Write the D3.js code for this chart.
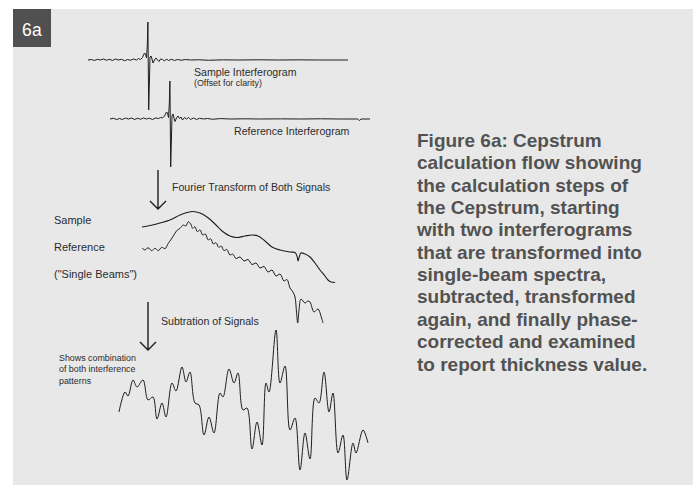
<!DOCTYPE html>
<html>
<head>
<meta charset="utf-8">
<script src="https://cdn.jsdelivr.net/npm/d3@7"></script>
<style>
  html, body { margin: 0; padding: 0; background: #ffffff; }
  svg { display: block; }
  text { font-family: "Liberation Sans", Arial, Helvetica, sans-serif; }
</style>
</head>
<body>
<svg id="fig" width="697" height="486"></svg>
<script>
// Interferograms: [optical path difference (points from centerburst), amplitude]
const sampleIfg = [
  [-60.5,0],[-57,0.01],[-54,-0.01],[-51,0.015],[-48,0],[-45,0.02],[-42,-0.005],[-39,0.015],
  [-36,-0.01],[-33,0.02],[-30,0],[-27,0.015],[-24,-0.015],[-21,0.01],[-18,-0.005],[-15,0.02],
  [-12,0],[-10,0.03],[-8,0.01],[-6,0.05],[-5,0.1],[-4,0.14],[-3,0.12],[-2,0.04],[-1.2,0.3],
  [-0.6,0.76],[0.2,-1.0],[0.9,-0.44],[1.5,0.06],[2.5,0.08],[3.5,0.02],[4.5,-0.06],[6,0],
  [7.5,0.04],[9,0],[10.5,-0.03],[12,0.02],[14,0.01],[16,-0.02],[18,0.02],[20,-0.01],[23,0.015],
  [26,-0.01],[29,0.01],[33,-0.005],[37,0.01],[42,0],[50,0.005],[60,-0.005],[75,0.003],[90,0],
  [110,0.004],[130,0],[150,0.003],[170,0],[199.5,0]
];
const referenceIfg = [
  [-60.5,0],[-57,0.015],[-54,-0.01],[-51,0.01],[-48,-0.01],[-45,0.02],[-42,0],[-39,0.02],
  [-36,-0.01],[-33,0.015],[-30,-0.005],[-27,0.02],[-24,0],[-21,0.015],[-18,-0.01],[-15,0.02],
  [-12,0.01],[-10,0.03],[-8,0.02],[-6,0.06],[-5,0.1],[-4,0.14],[-3,0.12],[-2,0.03],[-1.2,0.3],
  [-0.6,0.76],[0.2,-0.96],[0.9,-0.42],[1.5,0.06],[2.5,0.1],[3.5,0.02],[4.5,-0.05],[6,0.02],
  [7.5,0.06],[9,0.01],[10.5,0.04],[12,-0.02],[14,0.03],[16,0],[18,0.03],[20,-0.01],[23,0.02],
  [26,-0.01],[29,0.015],[33,0],[37,0.01],[42,-0.005],[50,0.008],[60,0],[75,0.004],[90,0],
  [110,0.003],[130,0],[150,0.004],[170,0],[187,0],[189,-0.03],[190.5,0],[199.5,0]
];

// Single-beam spectra: [channel, intensity]
const sampleSpectrum = [
  [0,1.03],[4,1.045],[9,1.07],[14,1.10],[19,1.15],[22.5,1.175],[25.5,1.185],[29,1.17],
  [32.5,1.13],[36.5,1.06],[40,0.99],[44,0.94],[47.5,0.925],[51.5,0.94],[55,0.95],[58,0.94],
  [61.5,0.89],[65,0.83],[69,0.80],[74,0.78],[76.5,0.775],[77.5,0.74],[78,0.69],[78.75,0.74],
  [79.5,0.77],[81.5,0.76],[84,0.73],[86.5,0.67],[89,0.60],[91.5,0.54],[93,0.50],[94.5,0.48],
  [96.5,0.475]
];
const referenceSpectrum = [
  [0,0.82],[1.5,0.80],[3,0.823],[4.85,0.793],[6.5,0.817],[8.15,0.793],[9.85,0.827],[11.5,0.813],
  [13.15,0.867],[14.35,0.90],[15.65,0.94],[17.35,0.993],[19,1.017],[20.65,1.05],[22,1.04],
  [23.15,1.083],[24.35,1.06],[25.35,1.017],[26.5,1.033],[27.65,0.983],[29,1.00],[30.35,0.95],
  [31.65,0.96],[33.15,0.90],[34.35,0.913],[35.65,0.86],[37,0.873],[38.35,0.827],[39.65,0.84],
  [41,0.793],[42.35,0.807],[44,0.75],[45.35,0.76],[47,0.715],[49,0.73],[51,0.69],[53,0.705],
  [55,0.655],[57,0.67],[59,0.62],[61,0.635],[63,0.58],[65,0.60],[67,0.54],[69,0.56],[71,0.49],
  [72.5,0.505],[74,0.42],[75.5,0.38],[76.5,0.33],[77.25,0.18],[77.85,0.07],[78.5,0.20],
  [79.5,0.31],[81.5,0.27],[83,0.29],[84,0.28],[86,0.18],[88,0.21],[89.5,0.14],[90.5,0.07]
];

// Difference of the two single beams: [channel, amplitude]
const subtracted = [
  [0,-0.093],[6,0.173],[9,0.12],[14,0.333],[18,0.24],[24,0.333],[29,0.067],[34,0.107],
  [38,-0.187],[43,0.027],[47,-0.16],[53,0.293],[57,0.187],[63,0.507],[67,0.307],[71,0.44],
  [76,0.027],[80,0],[85,-0.40],[90,-0.16],[95,-0.373],[101,0.16],[104,0.107],[110,0.48],
  [115,0.293],[119,0.427],[124,-0.067],[128,-0.04],[133,-0.587],[138,-0.227],[143,-0.533],
  [147,0.293],[150,0.173],[157,1.0],[161,0.293],[166,0.52],[171,-0.333],[176,-0.173],
  [181,-0.867],[186,-0.373],[191,-0.72],[196,0.093],[200,0.027],[205,0.44],[210,-0.093],
  [214,0.16],[219,-0.64],[224,-0.40],[228,-1.0],[234,-0.507],[237,-0.64],[244,-0.333],
  [249,-0.507]
];

const captionLines = [
  "Figure 6a: Cepstrum",
  "calculation flow showing",
  "the calculation steps of",
  "the Cepstrum, starting",
  "with two interferograms",
  "that are transformed into",
  "single-beam spectra,",
  "subtracted, transformed",
  "again, and finally phase-",
  "corrected and examined",
  "to report thickness value."
];

const svg = d3.select("#fig");
const ink = "#1e1e1e";

// panel background and figure tag
svg.append("rect").attr("x", 13).attr("y", 9).attr("width", 680).attr("height", 476).attr("fill", "#e8e8e8");
svg.append("rect").attr("x", 13).attr("y", 9).attr("width", 38).attr("height", 38).attr("fill", "#505050");
svg.append("text").attr("x", 22).attr("y", 35.5).attr("fill", "#ffffff")
  .attr("font-size", 17.5).attr("letter-spacing", 0.3).text("6a");

function trace(data, xs, ys, curve, width) {
  const line = d3.line().x(d => xs(d[0])).y(d => ys(d[1])).curve(curve);
  svg.append("path").attr("d", line(data)).attr("fill", "none")
    .attr("stroke", ink).attr("stroke-width", width).attr("stroke-linejoin", "round");
}

// interferograms (reference offset for clarity)
const ifgXs = d3.scaleLinear().domain([-60.5, 199.5]).range([88, 348]);
const ifgYs = d3.scaleLinear().domain([-1, 1]).range([110, 10]);
const ifgXr = d3.scaleLinear().domain([-60.5, 199.5]).range([110, 370]);
const ifgYr = d3.scaleLinear().domain([-1, 1]).range([169, 69]);
trace(sampleIfg, ifgXs, ifgYs, d3.curveLinear, 1);
trace(referenceIfg, ifgXr, ifgYr, d3.curveLinear, 1);

// single-beam spectra
const specX = d3.scaleLinear().domain([0, 100]).range([142, 342]);
const specY = d3.scaleLinear().domain([0, 1.2]).range([330, 210]);
trace(sampleSpectrum, specX, specY, d3.curveCatmullRom.alpha(0.5), 1.1);
trace(referenceSpectrum, specX, specY, d3.curveCatmullRom.alpha(0.5), 1);

// subtraction result
const subX = d3.scaleLinear().domain([0, 250]).range([119, 369]);
const subY = d3.scaleLinear().domain([-1, 1]).range([480, 330]);
trace(subtracted, subX, subY, d3.curveCatmullRom.alpha(0.5), 1);

// flow arrows
function arrow(x, y0, y1) {
  svg.append("path")
    .attr("d", `M${x},${y0}V${y1}M${x - 8},${y1 - 8}L${x},${y1}L${x + 8},${y1 - 8}`)
    .attr("fill", "none").attr("stroke", ink).attr("stroke-width", 1.4);
}
arrow(158, 170, 209);
arrow(148, 302, 350);

// step labels
const labels = [
  [194, 75.5, 10.6, "Sample Interferogram"],
  [194, 85.5, 8.9, "(Offset for clarity)"],
  [234, 135, 10.6, "Reference Interferogram"],
  [172, 190.5, 10.6, "Fourier Transform of Both Signals"],
  [54, 224, 11, "Sample"],
  [54, 251, 11, "Reference"],
  [54, 278, 11, "(\"Single Beams\")"],
  [161, 324.5, 10.6, "Subtration of Signals"],
  [59, 360.5, 8.9, "Shows combination"],
  [59, 372, 8.9, "of both interference"],
  [59, 383.5, 8.9, "patterns"]
];
svg.append("g").selectAll("text").data(labels).join("text")
  .attr("x", d => d[0]).attr("y", d => d[1]).attr("font-size", d => d[2])
  .attr("fill", "#2c2c2c").text(d => d[3]);

// caption
svg.append("g").selectAll("text").data(captionLines).join("text")
  .attr("x", 417).attr("y", (d, i) => 147 + i * 22.35)
  .attr("font-size", 19).attr("font-weight", "bold").attr("fill", "#525252")
  .text(d => d);
</script>
</body>
</html>
